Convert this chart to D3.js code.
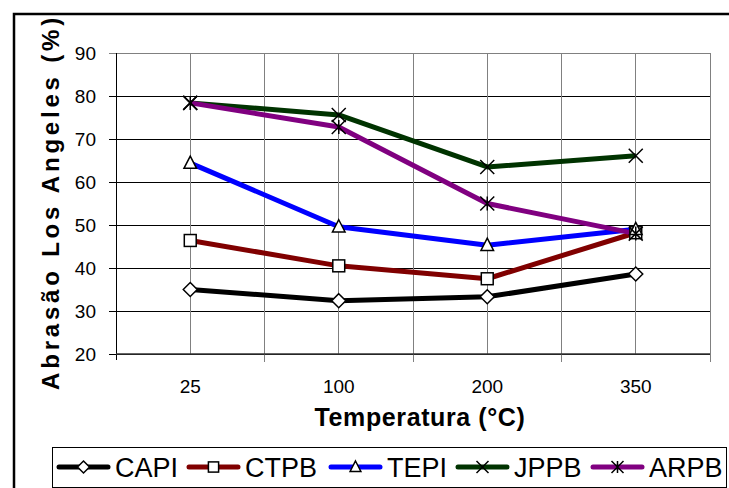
<!DOCTYPE html>
<html lang="en">
	<head>
		<meta charset="UTF-8">
		<title>Abrasão Los Angeles</title>
		<script src="https://d3js.org/d3.v7.min.js"></script>
		<style>
			body {
				margin: 0;
				background: white;
			}

			text {
				font-family: "Liberation Sans", Arial, sans-serif;
			}
		</style>
	</head>
	<body>
		<svg id="chart" width="729" height="488"></svg>
		<script>
			const temperatures = ["25", "100", "200", "350"]
			const yTicks = [20, 30, 40, 50, 60, 70, 80, 90]
			const seriesNames = ["CAPI", "CTPB", "TEPI", "JPPB", "ARPB"]
			const capi = [35.0, 32.4, 33.3, 38.6]
			const ctpb = [46.4, 40.5, 37.5, 48.2]
			const tepi = [64.4, 49.6, 45.3, 49.0]
			const jppb = [78.4, 75.6, 63.5, 66.1]
			const arpb = [78.4, 72.8, 55.0, 48.0]
			const seriesColors = ["#000000", "#800000", "#0000ff", "#003300", "#800080"]
			const seriesMarkers = ["diamond", "square", "triangle", "cross", "star"]

			const series = seriesNames.map((name, i) => ({
				name: name,
				values: [capi, ctpb, tepi, jppb, arpb][i],
				color: seriesColors[i],
				marker: seriesMarkers[i]
			}))

			const margin = { left: 116, top: 53, right: 19, bottom: 134 }
			const width = 729 - margin.left - margin.right
			const height = 488 - margin.top - margin.bottom

			const svg = d3.select("#chart")

			// outer chart border
			svg.append("rect")
				.attr("x", 14).attr("y", 14)
				.attr("width", 730).attr("height", 490)
				.attr("fill", "white")
				.attr("stroke", "black")
				.attr("stroke-width", 2.5)

			const g = svg.append("g").attr("transform", `translate(${margin.left},${margin.top})`)

			const x = d3.scaleBand().domain(temperatures).range([0, width]).padding(0)
			const y = d3.scaleLinear().domain([20, 90]).range([height, 0])
			const cx = d => x(d) + x.bandwidth() / 2

			// horizontal grid
			g.append("g")
				.selectAll("line")
				.data(yTicks)
				.join("line")
				.attr("x1", -7).attr("x2", width)
				.attr("y1", d => y(d)).attr("y2", d => y(d))
				.attr("stroke", d => d === 90 ? "#808080" : "#000")
				.attr("stroke-width", 1)
				.attr("shape-rendering", "crispEdges")

			// vertical grid: category centres and boundaries
			const bounds = temperatures.map(t => x(t)).concat([width])
			g.append("g")
				.selectAll("line.c")
				.data(temperatures)
				.join("line")
				.attr("x1", d => cx(d)).attr("x2", d => cx(d))
				.attr("y1", 0).attr("y2", height)
				.attr("stroke", "#808080")
				.attr("shape-rendering", "crispEdges")
			g.append("g")
				.selectAll("line")
				.data(bounds)
				.join("line")
				.attr("x1", d => d).attr("x2", d => d)
				.attr("y1", 0).attr("y2", d => d === 0 ? height + 6 : height + 8)
				.attr("stroke", d => d === 0 ? "#000" : "#808080")
				.attr("shape-rendering", "crispEdges")

			// bottom axis line
			g.append("line")
				.attr("x1", 0).attr("x2", width)
				.attr("y1", height).attr("y2", height)
				.attr("stroke", "#333")
				.attr("stroke-width", 1.5)

			// y tick labels
			g.append("g")
				.selectAll("text")
				.data(yTicks)
				.join("text")
				.attr("x", -20)
				.attr("y", d => y(d))
				.attr("dy", "0.36em")
				.attr("text-anchor", "end")
				.attr("font-size", 19)
				.text(d => d)

			// x tick labels
			g.append("g")
				.selectAll("text")
				.data(temperatures)
				.join("text")
				.attr("x", d => cx(d))
				.attr("y", height + 39)
				.attr("text-anchor", "middle")
				.attr("font-size", 19)
				.text(d => d)

			// axis titles
			svg.append("text")
				.attr("x", margin.left + width / 2 + 7)
				.attr("y", 426)
				.attr("text-anchor", "middle")
				.attr("font-size", 25)
				.attr("font-weight", "bold")
				.attr("letter-spacing", 0.6)
				.text("Temperatura (°C)")

			svg.append("text")
				.attr("transform", "translate(59,202) rotate(-90)")
				.attr("text-anchor", "middle")
				.attr("font-size", 24)
				.attr("font-weight", "bold")
				.attr("letter-spacing", 3.8)
				.text("Abrasão Los Angeles (%)")

			function drawMarker(sel, type, size) {
				const s = size / 2
				if (type === "diamond") {
					sel.append("path")
						.attr("d", `M0,${-s}L${s},0L0,${s}L${-s},0Z`)
						.attr("fill", "white").attr("stroke", "black").attr("stroke-width", 1.5)
				} else if (type === "square") {
					sel.append("rect")
						.attr("x", -s * 0.85).attr("y", -s * 0.85)
						.attr("width", s * 1.7).attr("height", s * 1.7)
						.attr("fill", "white").attr("stroke", "black").attr("stroke-width", 1.5)
				} else if (type === "triangle") {
					sel.append("path")
						.attr("d", `M0,${-s}L${s * 0.9},${s * 0.75}L${-s * 0.9},${s * 0.75}Z`)
						.attr("fill", "white").attr("stroke", "black").attr("stroke-width", 1.5)
				} else if (type === "cross") {
					sel.append("path")
						.attr("d", `M${-s},${-s}L${s},${s}M${-s},${s}L${s},${-s}`)
						.attr("stroke", "black").attr("stroke-width", 1.5)
				} else {
					sel.append("path")
						.attr("d", `M${-s},${-s}L${s},${s}M${-s},${s}L${s},${-s}M0,${-s}L0,${s}`)
						.attr("stroke", "black").attr("stroke-width", 1.5)
				}
			}

			const line = d3.line()
				.x((d, i) => cx(temperatures[i]))
				.y(d => y(d))

			const lines = g.append("g")
			series.forEach(s => {
				lines.append("path")
					.attr("d", line(s.values))
					.attr("fill", "none")
					.attr("stroke", s.color)
					.attr("stroke-width", 5)
					.attr("stroke-linejoin", "round")
			})
			series.forEach(s => {
				s.values.forEach((v, i) => {
					const m = lines.append("g").attr("transform", `translate(${cx(temperatures[i])},${y(v)})`)
					drawMarker(m, s.marker, 14)
				})
			})

			// legend
			const legend = svg.append("g")
			legend.append("rect")
				.attr("x", 52.5).attr("y", 447.5)
				.attr("width", 674).attr("height", 40)
				.attr("fill", "white")
				.attr("stroke", "black")
				.attr("stroke-width", 1)
			const legendX = [57, 187, 329, 456, 591]
			series.forEach((s, i) => {
				const item = legend.append("g").attr("transform", `translate(${legendX[i]},467)`)
				item.append("line")
					.attr("x1", 2).attr("x2", 51)
					.attr("stroke", s.color)
					.attr("stroke-width", 5)
					.attr("stroke-linecap", "round")
				drawMarker(item.append("g").attr("transform", "translate(26.5,0)"), s.marker, 12)
				item.append("text")
					.attr("x", 58)
					.attr("y", 10)
					.attr("font-size", 27)
					.text(s.name)
			})
		</script>
	</body>
</html>
